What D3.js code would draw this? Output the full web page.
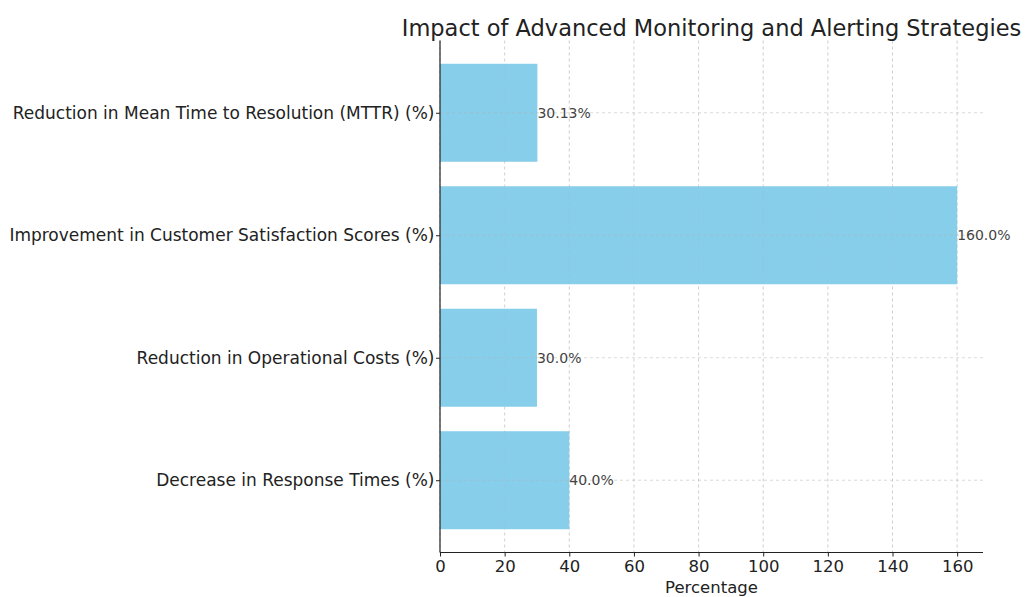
<!DOCTYPE html>
<html><head><meta charset="utf-8">
<script src="https://cdn.jsdelivr.net/npm/d3@7"></script>
<style>body{margin:0;background:#fff}svg{display:block}text{font-family:"DejaVu Sans",sans-serif}</style>
</head><body>
<svg id="c" width="1025" height="597"></svg>
<script>
const categories = ["Reduction in Mean Time to Resolution (MTTR) (%)","Improvement in Customer Satisfaction Scores (%)","Reduction in Operational Costs (%)","Decrease in Response Times (%)"];
const values = [30.13, 160.0, 30.0, 40.0];
const valueLabels = ["30.13%","160.0%","30.0%","40.0%"];
const xTicks = [0,20,40,60,80,100,120,140,160];
const title = "Impact of Advanced Monitoring and Alerting Strategies";
const xLabel = "Percentage";

const svg = d3.select("#c");
const L = 440, R = 983, T = 40.5, B = 552.5;
const x = d3.scaleLinear().domain([0,168]).range([L,R]);
const y = d3.scaleLinear().domain([-0.59, 3.59]).range([T,B]);
const barH = 0.8;

svg.selectAll(".vg").data(xTicks).join("line")
  .attr("x1",d=>x(d)).attr("x2",d=>x(d)).attr("y1",T).attr("y2",B)
  .attr("stroke","#b0b0b0").attr("stroke-opacity",0.6).attr("stroke-dasharray","3,3").attr("stroke-width",0.8);

svg.selectAll(".bar").data(values).join("rect")
  .attr("x",x(0)).attr("y",(d,i)=>y(i-barH/2))
  .attr("width",d=>x(d)-x(0)).attr("height",y(barH)-y(0))
  .attr("fill","#87CEEB");

svg.selectAll(".vg2").data(xTicks).join("line")
  .attr("x1",d=>x(d)).attr("x2",d=>x(d)).attr("y1",T).attr("y2",B)
  .attr("stroke","#b0b0b0").attr("stroke-opacity",0.25).attr("stroke-dasharray","3,3").attr("stroke-width",0.8);
svg.selectAll(".hg").data(categories).join("line")
  .attr("x1",L).attr("x2",R).attr("y1",(d,i)=>y(i)).attr("y2",(d,i)=>y(i))
  .attr("stroke","#b0b0b0").attr("stroke-opacity",0.6).attr("stroke-dasharray","3,3").attr("stroke-width",0.8);

svg.selectAll(".vl").data(values).join("text")
  .attr("x",d=>x(d)).attr("y",(d,i)=>y(i)).attr("dy","0.35em")
  .attr("font-size",14).attr("fill","#444").text((d,i)=>valueLabels[i]);

const xa = svg.append("g").attr("transform",`translate(0,${B})`)
  .call(d3.axisBottom(x).tickValues(xTicks).tickSize(4).tickPadding(4).tickFormat(d3.format("d")));
xa.select(".domain").attr("stroke","#222").attr("stroke-width",1.2).attr("d",`M${L},0H${R}`);
xa.selectAll(".tick line").attr("stroke","#222");
xa.selectAll("text").attr("font-size",16.5).attr("fill","#222").attr("font-family","DejaVu Sans");

const ya = svg.append("g").attr("transform",`translate(${L},0)`)
  .call(d3.axisLeft(y).tickValues([0,1,2,3]).tickSize(4).tickPadding(1.5).tickFormat(i=>categories[i]));
ya.select(".domain").attr("stroke","#222").attr("stroke-width",1.2).attr("d",`M0,${T}V${B}`);
ya.selectAll(".tick line").attr("stroke","#222");
ya.selectAll("text").attr("font-size",17).attr("fill","#222").attr("font-family","DejaVu Sans");

svg.append("text").attr("x",(L+R)/2).attr("y",593).attr("text-anchor","middle")
  .attr("font-size",16.5).attr("fill","#222").text(xLabel);
svg.append("text").attr("x",(L+R)/2).attr("y",36).attr("text-anchor","middle")
  .attr("font-size",22.5).attr("fill","#222").text(title);
</script>
</body></html>
